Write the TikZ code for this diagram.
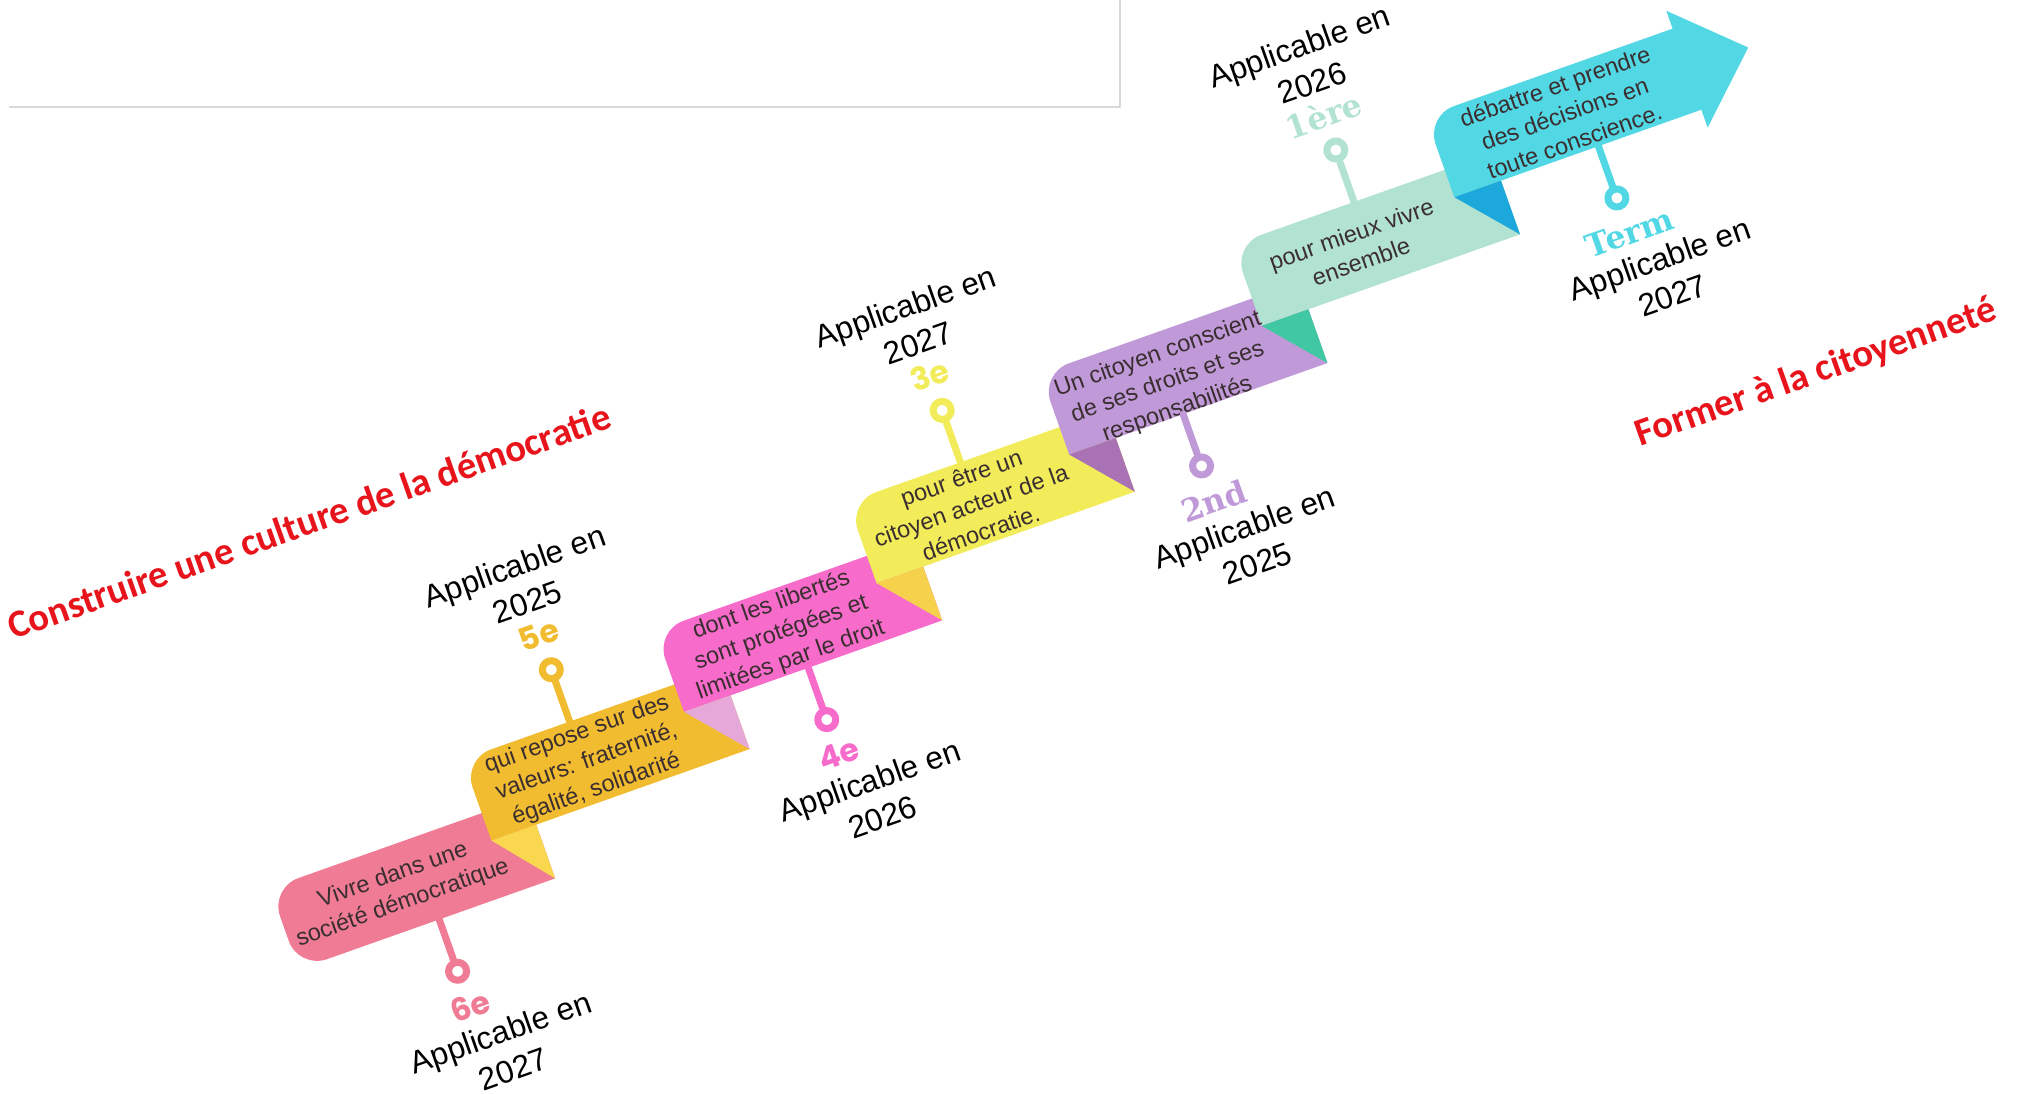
\documentclass[tikz,border=0pt]{standalone}
\usepackage{fontspec}
\setmainfont{Liberation Sans}
\newfontfamily\titlefont{Carlito}
\newfontfamily\classfont{Poppins}
\newfontfamily\slabfont{DejaVu Serif}
\usetikzlibrary{arrows.meta}

% ribbon colours
\definecolor{cPink}{HTML}{EF7B95}
\definecolor{cOrange}{HTML}{F2BC30}
\definecolor{cMagenta}{HTML}{F76BCB}
\definecolor{cLemon}{HTML}{F2EC5A}
\definecolor{cLilac}{HTML}{C09AD8}
\definecolor{cMint}{HTML}{B2E2D2}
\definecolor{cCyan}{HTML}{52D8E4}
% fold colours
\definecolor{fYellow}{HTML}{F9D850}
\definecolor{fRose}{HTML}{E6A8D8}
\definecolor{fGold}{HTML}{F6D24C}
\definecolor{fPlum}{HTML}{A872B4}
\definecolor{fGreen}{HTML}{40C8A2}
\definecolor{fBlue}{HTML}{1CA8DA}
\definecolor{titleRed}{HTML}{E8141C}
\definecolor{bandInk}{HTML}{3A2E30}

\tikzset{
  bandtext/.style={align=center, inner sep=0pt, text=bandInk,
    font=\fontsize{6.7}{8.3}\selectfont},
  yeartext/.style={align=center, inner sep=0pt,
    font=\fontsize{9}{11}\selectfont},
  classtext/.style={inner sep=0pt, font=\fontsize{9}{10}\selectfont},
  ring/.style={circle, draw=#1, fill=white, line width=2pt,
    minimum size=0.18cm, inner sep=0pt},
  stem/.style={draw=#1, line width=2pt},
  titletext/.style={text=titleRed, inner sep=0pt,
    font=\titlefont\bfseries\fontsize{11}{13}\selectfont},
}

\begin{document}
\begin{tikzpicture}[>=Latex, line cap=round, line join=round, font=\small]
	\useasboundingbox (0,0) rectangle (20.18,10.93);
	
	% ===== frame left over from the slide =====
	\draw[black!15, line width=0.8pt] (0.10,9.86) -- (11.20,9.86) -- (11.20,10.93);
	
	% ===== staircase of ribbons, laid out flat and tilted =====
	\begin{scope}[rotate=19.5, transform shape]
		% first ribbon, both left corners round
		\fill[cPink] (3.53,0.17) -- (5.95,0.17) -- (5.95,1.03) -- (3.53,1.03)
		arc[start angle=90, end angle=180, radius=0.3] -- (3.23,0.47)
		arc[start angle=180, end angle=270, radius=0.3] -- cycle;
		
		% middle ribbons, step 2.245 right and 0.57 up
		\foreach \i/\col in {1/cOrange, 2/cMagenta, 3/cLemon, 4/cLilac, 5/cMint}{
			\pgfmathsetmacro{\x}{3.23+2.245*\i}
			\pgfmathsetmacro{\y}{0.17+0.57*\i}
			\fill[\col] (\x,\y) -- ++(2.74,0) -- ++(0,0.86) -- ++(-2.44,0)
			arc[start angle=90, end angle=180, radius=0.3] -- cycle;
		}
		
		% last ribbon ends in the arrow head
		\fill[cCyan] (16.70,3.59) -- (19.32,3.59) -- (19.32,3.40) -- (19.97,4.02)
		-- (19.32,4.64) -- (19.32,4.45) -- (17.00,4.45)
		arc[start angle=90, end angle=180, radius=0.3] -- cycle;
		
		% folds under each step
		\foreach \i/\col in {0/fYellow, 1/fRose, 2/fGold, 3/fPlum, 4/fGreen, 5/fBlue}{
			\pgfmathsetmacro{\x}{3.23+2.245*\i}
			\pgfmathsetmacro{\y}{0.17+0.57*\i}
			\pgfmathsetmacro{\r}{\i==0 ? 2.72 : 2.74}
			\fill[\col] (\x+2.245,\y+0.57) -- (\x+\r,\y+0.57) -- (\x+\r,\y) -- cycle;
		}
		
		% texts on the ribbons
		\foreach \i/\dx/\dy/\txt in {
			0/1.20/0.42/{Vivre dans une\\société démocratique},
			1/1.16/0.42/{qui repose sur des\\valeurs: fraternité,\\égalité, solidarité},
			2/1.18/0.42/{dont les libertés\\sont protégées et\\limitées par le droit},
			3/1.15/0.42/{pour être un\\citoyen acteur de la\\démocratie.},
			4/1.17/0.35/{Un citoyen conscient\\de ses droits et ses\\responsabilités},
			5/1.15/0.42/{pour mieux vivre\\ensemble},
			6/1.32/0.42/{débattre et prendre\\des décisions en\\toute conscience.}}{
			\pgfmathsetmacro{\x}{3.23+2.245*\i+\dx}
			\pgfmathsetmacro{\y}{0.17+0.57*\i+\dy}
			\node[bandtext] (t\i) at (\x,\y) {\txt};
		}
		
		% pins: +1 above the ribbon, -1 below
		\foreach \i/\px/\side/\col/\cls/\yr in {
			0/1.49/-1/cPink/{\classfont\bfseries 6e}/2027,
			1/1.135/1/cOrange/{\classfont\bfseries 5e}/2025,
			2/1.32/-1/cMagenta/{\classfont\bfseries 4e}/2026,
			3/1.195/1/cLemon/{\classfont\bfseries 3e}/2027,
			4/1.21/-1/cLilac/{\slabfont\bfseries 2nd}/2025,
			5/1.285/1/cMint/{\slabfont\bfseries 1ère}/2026,
			6/1.53/-1/cCyan/{\slabfont\bfseries Term}/2027}{
			\pgfmathsetmacro{\x}{3.23+2.245*\i+\px}
			\pgfmathsetmacro{\y}{0.17+0.57*\i+0.86*(\side>0)}
			\coordinate (e\i) at (\x,\y);
			\node[ring=\col] (r\i) at (\x,\y+0.55*\side) {};
			\draw[stem=\col] (e\i) -- (r\i);
			\node[classtext, text=\col] (k\i) at (\x,\y+0.92*\side) {\cls};
			\node[yeartext] (a\i) at (\x+0.1-0.1*\side,\y+1.46*\side) {Applicable en\\\yr};
		}
	\end{scope}
	
	% ===== red headings =====
	\node[titletext, rotate=19.5] (head1) at (3.09,5.72) {Construire une culture de la démocratie};
	\node[titletext, rotate=19.5] (head2) at (18.16,7.20) {Former à la citoyenneté};
	
\end{tikzpicture}
\end{document}
